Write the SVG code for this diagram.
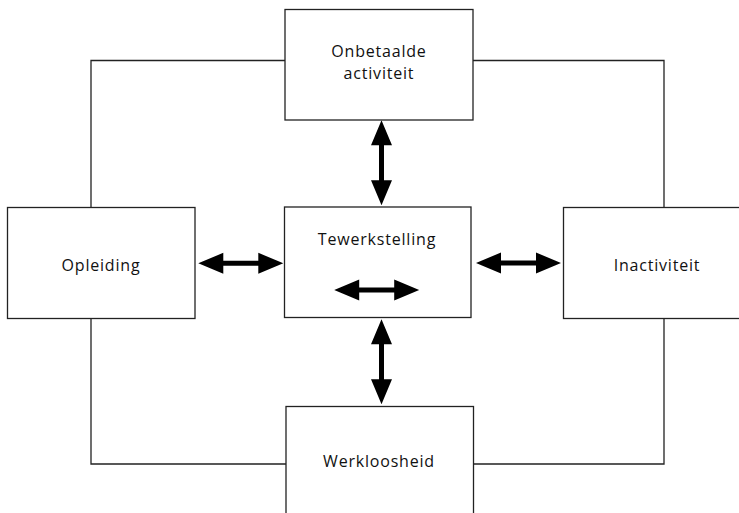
<svg xmlns="http://www.w3.org/2000/svg" xmlns:xlink="http://www.w3.org/1999/xlink" width="739" height="513" viewBox="0 0 739 513">
<style>
.box{fill:#fff;stroke:#222;stroke-width:1.3}
.line{fill:none;stroke:#222;stroke-width:1.3}
.lbl{font-family:"Open Sans","Liberation Sans",sans-serif;font-size:16px;letter-spacing:0.8px;fill:#111;text-anchor:middle}
.arr{fill:#000}
</style>
<defs>
<path id="dblarrow" class="arr" d="M-42.5,0 L-17.5,-10.5 L-17.5,-2.5 L17.5,-2.5 L17.5,-10.5 L42.5,0 L17.5,10.5 L17.5,2.5 L-17.5,2.5 L-17.5,10.5 Z"/>
</defs>
<rect width="739" height="513" fill="#fff"/>
<g id="connectors">
<polyline class="line" points="91,207 91,60.5 285,60.5"/>
<polyline class="line" points="473,60.5 664,60.5 664,207"/>
<polyline class="line" points="91,318 91,464 286,464"/>
<polyline class="line" points="473,464 664,464 664,318"/>
<use xlink:href="#dblarrow" transform="translate(240.8,263.3)"/>
<use xlink:href="#dblarrow" transform="translate(518.5,263)"/>
<use xlink:href="#dblarrow" transform="translate(381.5,162.8) rotate(90)"/>
<use xlink:href="#dblarrow" transform="translate(381.5,361.7) rotate(90)"/>
</g>
<g id="onbetaalde">
<rect class="box" x="285" y="9.5" width="188" height="110.5"/>
<text class="lbl" x="379" y="57">Onbetaalde</text>
<text class="lbl" x="379" y="79">activiteit</text>
</g>
<g id="opleiding">
<rect class="box" x="7.5" y="207.5" width="187.5" height="111"/>
<text class="lbl" x="101" y="271">Opleiding</text>
</g>
<g id="tewerkstelling">
<rect class="box" x="284.5" y="207" width="186.5" height="110.5"/>
<text class="lbl" x="377" y="245">Tewerkstelling</text>
<use xlink:href="#dblarrow" transform="translate(376.7,290)"/>
</g>
<g id="inactiviteit">
<rect class="box" x="563.5" y="207.5" width="190" height="111"/>
<text class="lbl" x="657" y="271">Inactiviteit</text>
</g>
<g id="werkloosheid">
<rect class="box" x="286" y="406.5" width="187.5" height="120"/>
<text class="lbl" x="379" y="467">Werkloosheid</text>
</g>
</svg>
